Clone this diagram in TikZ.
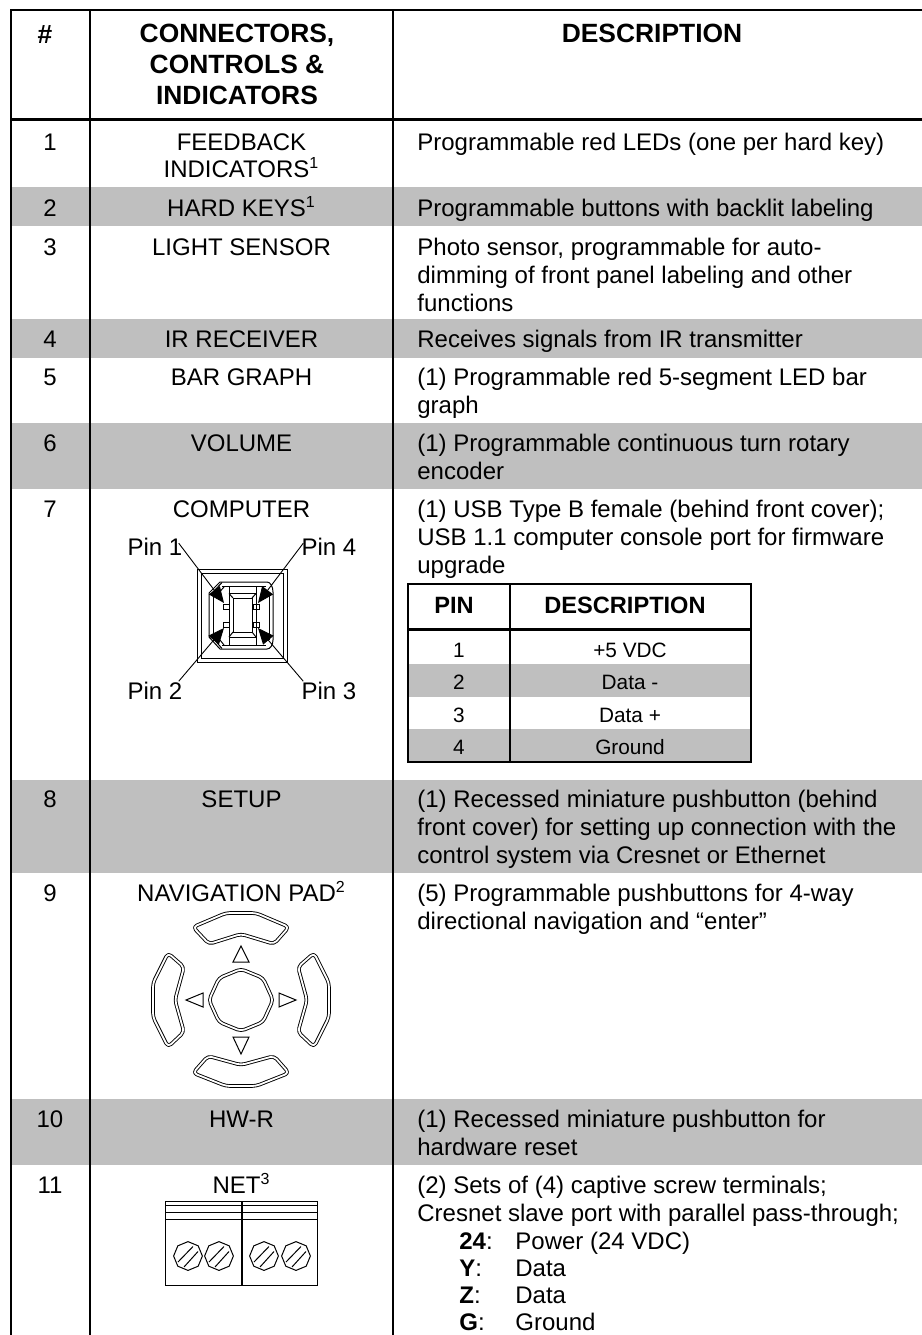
\documentclass[tikz,border=0pt]{standalone}
\usepackage{fontspec}
\usepackage{xcolor}
\usetikzlibrary{arrows.meta,shapes.geometric}
\setmainfont{Liberation Sans}
\definecolor{rowgray}{RGB}{191,191,191}
\tikzset{
    every node/.style={inner sep=0pt, font=\fontsize{12}{14}\selectfont},
    cellnum/.style={anchor=base},
    celllabel/.style={anchor=base, align=center},
    celldesc/.style={anchor=base west, align=left},
    headtext/.style={anchor=base, align=center, font=\fontsize{13.2}{15.5}\selectfont\bfseries},
    subhead/.style={anchor=base, font=\fontsize{11.8}{13}\selectfont\bfseries},
    subcell/.style={anchor=base, font=\fontsize{10.4}{12}\selectfont},
    tablerule/.style={line width=1pt},
    headrule/.style={line width=1.8pt},
    pinarrow/.style={line width=0.45pt, -{Triangle[length=8pt,width=6.8pt]}},
    thinline/.style={line width=0.5pt},
    padline/.style={line width=0.45pt, double, double distance=0.9pt, line join=round, rounded corners=2pt},
    screw/.style={draw, line width=0.5pt, regular polygon, regular polygon sides=8, shape border rotate=22.5, minimum size=14.4pt}
}
\begin{document}
\begin{tikzpicture}[x=0.5pt, y=-0.5pt]
    \useasboundingbox (0,0) rectangle (922,1335);
    % gray rows
    \foreach \ytop/\ybot in {187/226, 319/358, 423/489, 780/873, 1099/1165}
        \fill[rowgray] (11,\ytop) rectangle (922,\ybot);
    % main table rules
    \draw[tablerule] (11,9.5) -- (922,9.5);
    \draw[headrule] (11,119.5) -- (922,119.5);
    \draw[tablerule] (11,9) -- (11,1335);
    \draw[tablerule] (90,9) -- (90,1335);
    \draw[tablerule] (393,9) -- (393,1335);
    % header
    \node[headtext] (hnum) at (45,43) {\#};
    \node[headtext] (hconn) at (237,42) {CONNECTORS,};
    \node[headtext] (hctrl) at (237,73) {CONTROLS \&};
    \node[headtext] (hind) at (237,104) {INDICATORS};
    \node[headtext] (hdesc) at (652,42) {DESCRIPTION};
    % numbers
    \node[cellnum] (n1) at (50,150) {1};
    \node[cellnum] (n2) at (50,216) {2};
    \node[cellnum] (n3) at (50,255) {3};
    \node[cellnum] (n4) at (50,347) {4};
    \node[cellnum] (n5) at (50,385) {5};
    \node[cellnum] (n6) at (50,451) {6};
    \node[cellnum] (n7) at (50,517) {7};
    \node[cellnum] (n8) at (50,807) {8};
    \node[cellnum] (n9) at (50,901) {9};
    \node[cellnum] (n10) at (50,1127) {10};
    \node[cellnum] (n11) at (50,1193) {11};
    % labels
    \node[celllabel] (c1a) at (241.5,150) {FEEDBACK};
    \node[celllabel] (c1b) at (241.5,177) {INDICATORS\textsuperscript{1}};
    \node[celllabel] (c2) at (241.5,216) {HARD KEYS\textsuperscript{1}};
    \node[celllabel] (c3) at (241.5,255) {LIGHT SENSOR};
    \node[celllabel] (c4) at (241.5,347) {IR RECEIVER};
    \node[celllabel] (c5) at (241.5,385) {BAR GRAPH};
    \node[celllabel] (c6) at (241.5,451) {VOLUME};
    \node[celllabel] (c7) at (241.5,517) {COMPUTER};
    \node[celllabel] (c8) at (241.5,807) {SETUP};
    \node[celllabel] (c9) at (241.5,901) {NAVIGATION PAD\textsuperscript{2}};
    \node[celllabel] (c10) at (241.5,1127) {HW-R};
    \node[celllabel] (c11) at (241.5,1193) {NET\textsuperscript{3}};
    % descriptions
    \node[celldesc] (d1) at (417,150) {Programmable red LEDs (one per hard key)};
    \node[celldesc] (d2) at (417,216) {Programmable buttons with backlit labeling};
    \node[celldesc] (d3a) at (417,255) {Photo sensor, programmable for auto-};
    \node[celldesc] (d3b) at (417,283) {dimming of front panel labeling and other};
    \node[celldesc] (d3c) at (417,311) {functions};
    \node[celldesc] (d4) at (417,347) {Receives signals from IR transmitter};
    \node[celldesc] (d5a) at (417,385) {(1) Programmable red 5-segment LED bar};
    \node[celldesc] (d5b) at (417,413) {graph};
    \node[celldesc] (d6a) at (417,451) {(1) Programmable continuous turn rotary};
    \node[celldesc] (d6b) at (417,479) {encoder};
    \node[celldesc] (d7a) at (417,517) {(1) USB Type B female (behind front cover);};
    \node[celldesc] (d7b) at (417,545) {USB 1.1 computer console port for firmware};
    \node[celldesc] (d7c) at (417,573) {upgrade};
    \node[celldesc] (d8a) at (417,807) {(1) Recessed miniature pushbutton (behind};
    \node[celldesc] (d8b) at (417,835) {front cover) for setting up connection with the};
    \node[celldesc] (d8c) at (417,863) {control system via Cresnet or Ethernet};
    \node[celldesc] (d9a) at (417,901) {(5) Programmable pushbuttons for 4-way};
    \node[celldesc] (d9b) at (417,929) {directional navigation and “enter”};
    \node[celldesc] (d10a) at (417,1127) {(1) Recessed miniature pushbutton for};
    \node[celldesc] (d10b) at (417,1155) {hardware reset};
    \node[celldesc] (d11a) at (417,1193) {(2) Sets of (4) captive screw terminals;};
    \node[celldesc] (d11b) at (417,1221) {Cresnet slave port with parallel pass-through;};
    \node[celldesc] (k24) at (459,1249) {\textbf{24}:};
    \node[celldesc] (v24) at (515,1249) {Power (24 VDC)};
    \node[celldesc] (ky) at (459,1276) {\textbf{Y}:};
    \node[celldesc] (vy) at (515,1276) {Data};
    \node[celldesc] (kz) at (459,1303) {\textbf{Z}:};
    \node[celldesc] (vz) at (515,1303) {Data};
    \node[celldesc] (kg) at (459,1330) {\textbf{G}:};
    \node[celldesc] (vg) at (515,1330) {Ground};
    % pin table
    \fill[rowgray] (408,664) rectangle (751,697);
    \fill[rowgray] (408,729) rectangle (751,762);
    \draw[tablerule] (408,584) rectangle (751,762);
    \draw[tablerule] (510,584) -- (510,762);
    \draw[line width=1.5pt] (408,629) -- (751,629);
    \node[subhead] (phead) at (454,613) {PIN};
    \node[subhead] (pdhead) at (625,613) {DESCRIPTION};
    \node[subcell] (p1) at (459,657) {1};
    \node[subcell] (p2) at (459,689) {2};
    \node[subcell] (p3) at (459,722) {3};
    \node[subcell] (p4) at (459,754) {4};
    \node[subcell] (pd1) at (630,657) {+5 VDC};
    \node[subcell] (pd2) at (630,689) {Data -};
    \node[subcell] (pd3) at (630,722) {Data +};
    \node[subcell] (pd4) at (630,754) {Ground};
    % usb connector
    \draw[thinline] (197,569) rectangle (287,662);
    \draw[thinline] (201,573) rectangle (283,658);
    \draw[thinline] (220,582) -- (267,582) arc (-90:0:6 and 10) -- (273,640) arc (0:90:6 and 9) -- (220,649) -- (209,637) -- (209,593) -- cycle;
    \draw[thinline] (222,586) -- (266,586) (222,645) -- (266,645);
    \draw[thinline] (213,596) -- (213,634) (269,592) -- (269,640);
    \draw[thinline] (212,593) -- (222,582.5) (216,596) -- (224,587);
    \draw[thinline] (212,637) -- (222,648.5) (216,635) -- (224,645);
    \draw[thinline] (229,586) rectangle (256,593.5);
    \draw[thinline] (229,637) rectangle (256,645);
    \draw[thinline] (229,593.5) rectangle (256,637);
    \draw[thinline] (233,598) rectangle (252,632);
    \draw[thinline] (229,593.5) -- (233,598) (256,593.5) -- (252,598) (229,637) -- (233,632) (256,637) -- (252,632);
    \foreach \bx/\by in {223/604, 223/622, 253/604, 253/622}
        \draw[thinline] (\bx,\by) rectangle ++(6,5.5);
    \node[celllabel] (pin1) at (155,555) {Pin 1};
    \node[celllabel] (pin4) at (329,555) {Pin 4};
    \node[celllabel] (pin2) at (155,699) {Pin 2};
    \node[celllabel] (pin3) at (329,699) {Pin 3};
    \coordinate (tip1) at (224,603);
    \coordinate (tip4) at (258,603);
    \coordinate (tip2) at (224,628);
    \coordinate (tip3) at (258,628);
    \draw[pinarrow] (pin1.north east) ++(-4,6) -- (tip1);
    \draw[pinarrow] (pin4.north west) ++(2,6) -- (tip4);
    \draw[pinarrow] (pin2.north east) ++(-4,0) -- (tip2);
    \draw[pinarrow] (pin3.north west) ++(2,0) -- (tip3);
    % navigation pad
    \draw[padline] (193,927) -- (226,913) -- (256,913) -- (289,927) -- (274,944) -- (241,934) -- (209,944) -- cycle;
    \draw[padline] (193,1073) -- (226,1086) -- (256,1086) -- (289,1073) -- (274,1056) -- (241,1065) -- (208,1056) -- cycle;
    \draw[padline] (153,983) -- (153,1017) -- (168,1047) -- (184,1032) -- (175,1000) -- (184,967) -- (168,953) -- cycle;
    \draw[padline] (329,983) -- (329,1017) -- (314,1047) -- (298,1032) -- (307,1000) -- (298,967) -- (314,953) -- cycle;
    \draw[padline] (241,969) -- (263,978) -- (273,1000) -- (263,1022) -- (241,1031) -- (219,1022) -- (209,1000) -- (219,978) -- cycle;
    \draw[thinline] (241,946) -- (233,962) -- (249,962) -- cycle;
    \draw[thinline] (233,1037) -- (249,1037) -- (241,1054) -- cycle;
    \draw[thinline] (186,1000) -- (203,993) -- (203,1007) -- cycle;
    \draw[thinline] (279,993) -- (279,1007) -- (296,1000) -- cycle;
    % net connector
    \draw[thinline] (165,1201) rectangle (317,1285);
    \draw[thinline] (165,1205) -- (317,1205);
    \draw[thinline] (165,1212) -- (317,1212);
    \draw[thinline] (165,1219) -- (317,1219);
    \draw[line width=0.8pt] (242,1201) -- (242,1285);
    \foreach \sx/\sname in {188/a, 219/b, 264/c, 296/d} {
        \node[screw] (screw\sname) at (\sx,1256) {};
        \draw[thinline] (\sx,1256) ++(-10,6) -- ++(15,-15.5);
        \draw[thinline] (\sx,1256) ++(-4,11) -- ++(14,-15.5);
    }
\end{tikzpicture}
\end{document}
